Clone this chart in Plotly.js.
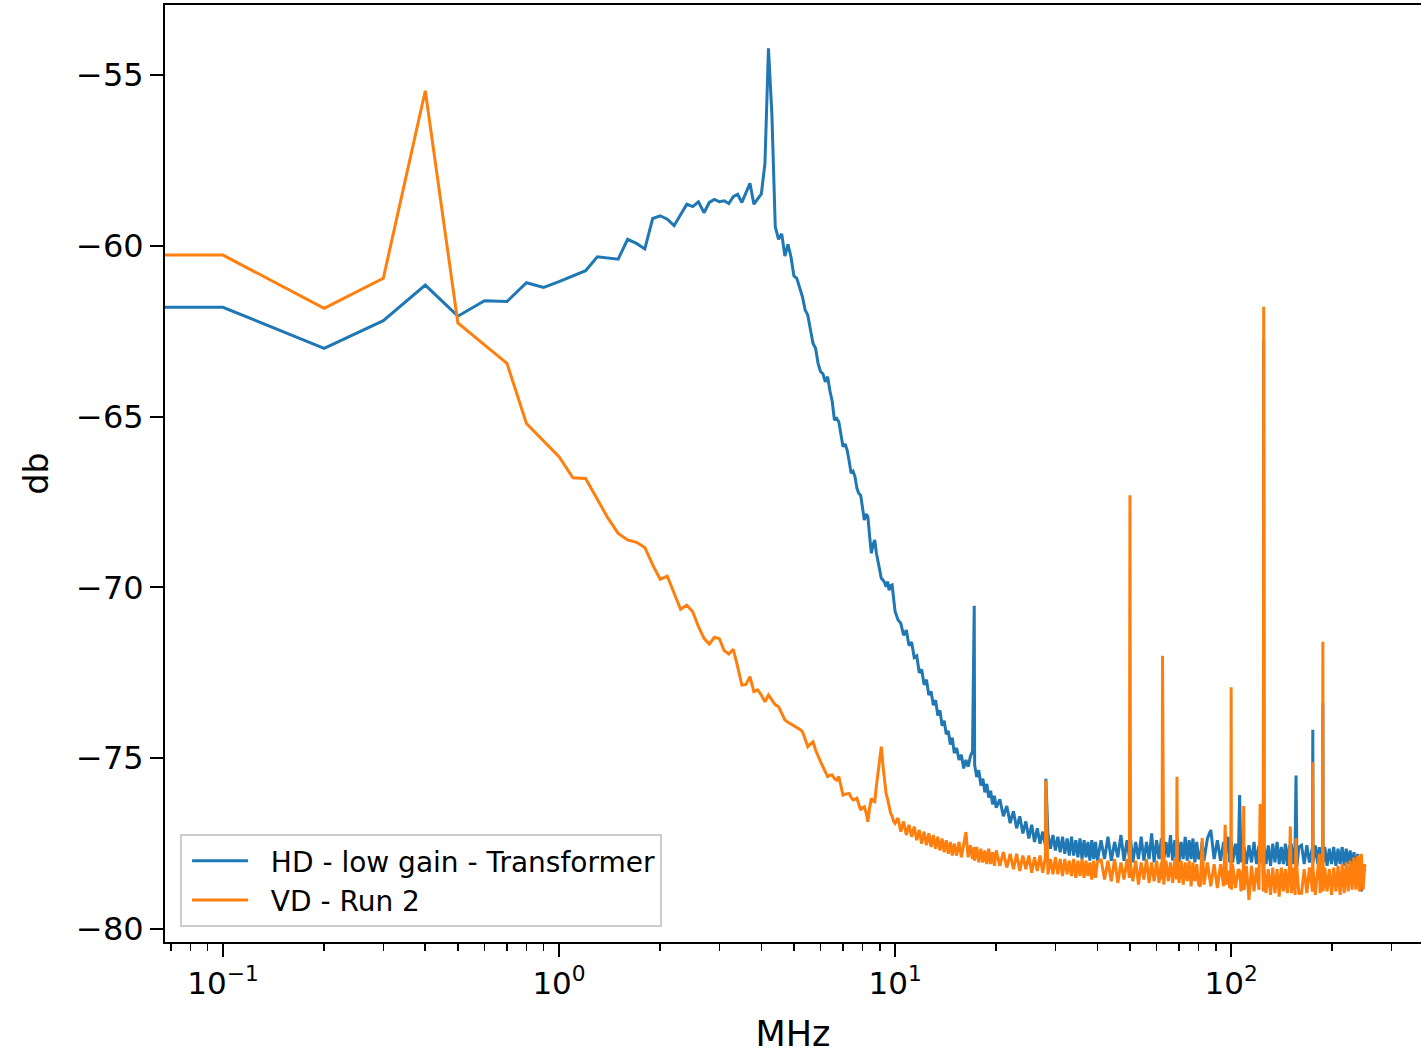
<!DOCTYPE html>
<html>
<head>
<meta charset="utf-8">
<script src="https://cdn.plot.ly/plotly-3.0.1.min.js"></script>
<style>html,body{margin:0;padding:0;background:#fff;}#chart{width:1421px;height:1054px;}</style>
</head>
<body>
<div id="chart"></div>
<script>
// ---- Data (MHz, dB), split in frequency segments ----
// 0 .. 1 MHz (first bin is DC = 0 MHz)
const freq0 = [0, 0.1, 0.2, 0.3, 0.4, 0.5, 0.6, 0.7, 0.8, 0.9, 1.0];
const hd0 = [-61.80, -61.80, -63.00, -62.19, -61.15, -62.06, -61.61, -61.63, -61.08, -61.22, -61.05];
const vd0 = [-60.27, -60.27, -61.83, -60.95, -55.46, -62.26, -62.90, -63.44, -65.20, -65.72, -66.17];

// 1.1 .. 6.0 MHz
const freq1 = [1.1,1.2,1.3,1.4,1.5,1.6,1.7,1.8,1.9,2.0,
  2.1,2.2,2.3,2.4,2.5,2.6,2.7,2.8,2.9,3.0,
  3.1,3.2,3.3,3.4,3.5,3.6,3.7,3.8,3.9,4.0,
  4.1,4.2,4.3,4.4,4.5,4.6,4.7,4.8,4.9,5.0,
  5.1,5.2,5.3,5.4,5.5,5.6,5.7,5.8,5.9,6.0];
const hd1 = [-60.88,-60.73,-60.32,-60.35,-60.39,-59.81,-59.93,-60.09,-59.20,-59.12,
  -59.22,-59.41,-59.08,-58.78,-58.85,-58.71,-59.03,-58.73,-58.64,-58.71,
  -58.68,-58.76,-58.56,-58.49,-58.73,-58.44,-58.17,-58.78,-58.64,-58.48,
  -57.59,-54.22,-56.15,-59.44,-59.81,-59.65,-60.30,-59.96,-60.32,-60.88,
  -60.95,-61.20,-61.49,-61.88,-62.03,-62.46,-62.86,-63.00,-63.44,-63.68];
const vd1 = [-66.79,-66.81,-67.42,-67.98,-68.42,-68.61,-68.68,-68.83,-69.34,-69.76,
  -69.67,-70.17,-70.64,-70.52,-70.71,-71.15,-71.49,-71.66,-71.46,-71.50,
  -71.85,-71.95,-71.81,-72.32,-72.86,-72.84,-72.61,-73.05,-73.00,-73.15,
  -73.35,-73.15,-73.30,-73.44,-73.49,-73.70,-73.88,-73.95,-74.00,-74.05,
  -74.08,-74.15,-74.22,-74.45,-74.66,-74.58,-74.52,-74.76,-74.95,-75.10];

// 6.1 .. 10.0 MHz
const freq2 = [6.1,6.2,6.3,6.4,6.5,6.6,6.7,6.8,6.9,7.0,
  7.1,7.2,7.3,7.4,7.5,7.6,7.7,7.8,7.9,8.0,
  8.1,8.2,8.3,8.4,8.5,8.6,8.7,8.8,8.9,9.0,
  9.1,9.2,9.3,9.4,9.5,9.6,9.7,9.8,9.9,10.0];
const hd2 = [-63.75,-63.98,-63.83,-64.25,-64.55,-65.10,-65.05,-65.15,-65.50,-65.88,
  -65.80,-65.98,-66.30,-66.66,-66.60,-66.76,-67.10,-67.25,-67.30,-67.70,
  -68.03,-67.85,-67.93,-68.50,-69.00,-68.75,-68.61,-69.00,-69.29,-69.50,
  -69.73,-69.78,-69.85,-69.98,-69.83,-70.08,-69.95,-69.93,-70.40,-70.70];
const vd2 = [-75.25,-75.40,-75.54,-75.50,-75.49,-75.60,-75.64,-75.54,-75.80,-76.08,
  -76.05,-76.03,-76.03,-76.15,-76.22,-76.20,-76.17,-76.35,-76.52,-76.45,
  -76.42,-76.60,-76.86,-76.45,-76.17,-76.25,-76.27,-75.80,-75.44,-75.05,
  -74.66,-75.20,-75.60,-76.03,-76.20,-76.40,-76.61,-76.70,-76.85,-76.91];

// 10.2 .. 20 MHz
const freq3 = [10.2,10.4,10.6,10.8,11,11.2,11.4,11.6,11.8,12,12.2,12.4,12.6,12.8,13,13.2,13.4,13.6,13.8,14,14.2,14.4,14.6,14.8,15,
  15.25,15.5,15.75,16,16.25,16.5,16.75,17,17.2,
  17.25,17.5,17.75,18,18.25,18.5,18.75,19,19.25,19.5,19.75,20];
const hd3 = [-70.95,-71.05,-71.40,-71.25,-71.70,-71.60,-72.05,-72.00,-72.50,-72.40,-72.85,-72.70,-73.15,-73.05,-73.45,-73.30,-73.75,-73.60,-74.05,-73.90,-74.30,-74.20,-74.60,-74.40,-74.85,
  -74.70,-75.05,-74.90,-75.30,-75.05,-75.25,-74.95,-74.80,-70.54,
  -75.20,-75.55,-75.35,-75.80,-75.60,-76.00,-75.75,-76.15,-75.95,-76.35,-76.10,-76.45];
const vd3 = [-76.75,-77.15,-76.85,-77.25,-76.95,-77.30,-77.00,-77.40,-77.10,-77.50,-77.15,-77.55,-77.20,-77.60,-77.25,-77.65,-77.30,-77.70,-77.35,-77.75,-77.40,-77.80,-77.45,-77.85,-77.50,
  -77.85,-77.45,-77.90,-77.50,-77.16,-77.90,-77.55,-77.95,-77.60,
  -78.00,-77.60,-78.05,-77.65,-78.05,-77.70,-78.10,-77.65,-78.10,-77.75,-78.15,-77.70];

// 20.5 .. 40 MHz
const freq4 = [20.5,21,21.5,22,22.5,23,23.5,24,24.5,25,25.5,26,26.5,27,27.5,28,28.1,
  28.5,29,29.5,30,30.5,31,31.5,32,32.5,33,33.5,34,34.5,35,35.5,36,36.5,37,37.5,38,38.5,39,39.5,40];
const hd4 = [-76.20,-76.70,-76.40,-76.90,-76.55,-77.05,-76.70,-77.20,-76.85,-77.35,-76.95,-77.45,-77.05,-77.50,-77.15,-77.55,-75.60,
  -77.20,-77.65,-77.25,-77.70,-77.30,-77.75,-77.30,-77.80,-77.35,-77.85,-77.30,-77.85,-77.40,-77.90,-77.35,-77.95,-77.40,-77.90,-77.45,-78.00,-77.40,-77.95,-77.45,-78.00];
const vd4 = [-78.15,-77.75,-78.20,-77.80,-78.25,-77.80,-78.30,-77.85,-78.25,-77.85,-78.35,-77.90,-78.30,-77.85,-78.35,-77.90,-75.65,
  -78.40,-77.95,-78.40,-77.90,-78.40,-77.95,-78.45,-77.95,-78.40,-78.00,-78.45,-77.95,-78.50,-78.00,-78.45,-77.95,-78.50,-78.00,-78.45,-78.05,-78.55,-78.00,-78.50,-78.05];

// 41 .. 80 MHz
const freq5 = [41,42,43,44,45,46,47,48,49, 49.8,50,50.2,
  51,52,53,54,55,56,57,58,59,60,61,62, 62.3,62.5,62.7,
  63,64,65,66,67,68, 68.8,69,69.2,
  70,71,72,73,74,75,76,77,78,79,80];
const hd5 = [-77.40,-77.95,-77.30,-78.00,-77.45,-77.90,-77.25,-78.00,-77.40, -77.90,-77.70,-77.35,
  -78.05,-77.45,-77.95,-77.30,-78.00,-77.45,-77.95,-77.20,-78.05,-77.40,-77.95,-77.35, -77.95,-77.60,-77.30,
  -78.00,-77.45,-77.90,-77.25,-78.00,-77.40, -77.95,-77.70,-77.35,
  -78.05,-77.45,-77.95,-77.30,-78.00,-77.40,-77.95,-77.35,-78.05,-77.45,-77.95];
const vd5 = [-77.95,-78.55,-78.00,-78.60,-77.95,-78.65,-78.05,-78.55,-77.95, -78.50,-67.30,-78.10,
  -78.60,-78.00,-78.70,-78.05,-78.55,-77.95,-78.65,-78.05,-78.60,-78.00,-78.65,-78.05, -78.55,-72.00,-78.10,
  -78.70,-78.00,-78.60,-78.05,-78.65,-77.95, -78.55,-75.54,-78.05,
  -78.65,-78.00,-78.70,-78.05,-78.60,-78.00,-78.75,-78.05,-78.60,-78.10,-78.70];

// 81 .. 159 MHz
const freq6 = [81,82,83,85,87,89,91,93,95,96,97,98,99,99.8,100,100.2,101,103,105,106,107,108.7,109,109.3,
  111,113,115,117,119,121,122,123,124.7,125,125.3,127,129,131,133,135,137,139,141,143,145,147,149,150,151,153,155,156,157,159];
const hd6 = [-77.85,-77.45,-78.00,-77.35,-77.10,-77.95,-77.40,-78.00,-77.45,-77.95,-77.50,-77.30,-78.05,-77.60,-77.85,-77.45,-78.05,-77.50,-78.10,-76.08,-78.05,-77.50,-77.85,-77.60,
  -78.10,-77.55,-78.05,-77.45,-78.10,-77.55,-78.05,-77.60,-78.10,-62.76,-77.60,-78.10,-77.55,-78.15,-77.50,-78.05,-77.45,-78.10,-77.60,-78.10,-77.50,-78.15,-77.55,-77.90,-77.50,-78.10,-77.55,-75.51,-78.15,-77.60];
const vd6 = [-78.75,-77.34,-78.70,-78.05,-78.75,-78.10,-78.80,-78.10,-78.75,-76.95,-78.70,-78.30,-78.80,-78.20,-72.92,-78.85,-78.10,-78.80,-78.25,-78.30,-78.90,-78.20,-76.40,-78.85,
  -78.15,-79.15,-78.15,-78.90,-78.20,-78.85,-76.34,-76.60,-78.90,-61.78,-78.20,-78.95,-78.25,-79.00,-78.20,-78.95,-78.25,-79.05,-78.20,-78.90,-78.25,-78.95,-78.20,-77.00,-78.95,-78.20,-79.00,-77.34,-78.25,-78.95];

// 162 .. 250 MHz
const freq7 = [162,165,168,171,174.7,175,175.3,178,181,183,184,187.2,187.5,187.8,
  190,193,196,199,202,205,208,211,214,217,220,223,226,229,232,235,238,241,244,247,250];
const hd7 = [-77.55,-78.10,-77.55,-78.05,-77.60,-74.17,-78.05,-77.55,-78.10,-77.60,-78.05,-77.60,-73.39,-78.05,
  -77.60,-78.15,-77.65,-78.10,-77.60,-78.15,-77.65,-78.10,-77.60,-78.15,-77.65,-78.10,-77.70,-78.20,-77.75,-78.25,-77.80,-78.30,-78.90,-78.10,-78.30];
const vd7 = [-78.95,-78.25,-78.95,-78.20,-78.90,-75.12,-78.25,-79.00,-78.20,-77.80,-78.95,-78.25,-71.59,-78.90,
  -78.20,-78.90,-78.25,-79.00,-78.20,-78.90,-78.15,-79.00,-78.10,-78.95,-78.05,-78.90,-78.00,-78.85,-77.90,-78.85,-77.85,-78.90,-77.80,-78.85,-78.10];

// Axis ticks
const yTickVals = [-80, -75, -70, -65, -60, -55];
const yTickText = ['\u221280', '\u221275', '\u221270', '\u221265', '\u221260', '\u221255'];
const xTickVals = [0.1, 1, 10, 100];
const xTickText = ['10<sup>\u22121</sup>', '10<sup>0</sup>', '10<sup>1</sup>', '10<sup>2</sup>'];
const xMinorTicks = [0.07,0.08,0.09,0.2,0.3,0.4,0.5,0.6,0.7,0.8,0.9,2,3,4,5,6,7,8,9,20,30,40,50,60,70,80,90,200,300];

const seriesNames = ['HD - low gain - Transformer', 'VD - Run 2'];
const seriesColors = ['#1f77b4', '#ff7f0e'];

// ---- assemble ----
const freq = [].concat(freq0, freq1, freq2, freq3, freq4, freq5, freq6, freq7);
const hd = [].concat(hd0, hd1, hd2, hd3, hd4, hd5, hd6, hd7);
const vd = [].concat(vd0, vd1, vd2, vd3, vd4, vd5, vd6, vd7);
if (freq.length !== hd.length || freq.length !== vd.length) {
  console.error('length mismatch', freq.length, hd.length, vd.length);
}
// like matplotlib, a non-positive x on a log axis is clipped to a tiny positive value
const xPlot = freq.map(f => (f > 0 ? f : 1e-300));

const NB = '\u00a0\u00a0';
const traces = [
  {x: xPlot, y: hd, name: NB + seriesNames[0], type: 'scatter', mode: 'lines',
   line: {color: seriesColors[0], width: 3}},
  {x: xPlot, y: vd, name: NB + seriesNames[1], type: 'scatter', mode: 'lines',
   line: {color: seriesColors[1], width: 3}}
];

const font = 'DejaVu Sans, Liberation Sans, sans-serif';
const layout = {
  width: 1421, height: 1054,
  margin: {l: 165, r: 0, t: 5, b: 112},
  paper_bgcolor: '#ffffff', plot_bgcolor: '#ffffff',
  font: {family: font, color: '#000000', size: 30},
  showlegend: true,
  legend: {
    x: 0.012, y: 0.016, xanchor: 'left', yanchor: 'bottom',
    bgcolor: 'rgba(255,255,255,0.85)', bordercolor: '#cccccc', borderwidth: 2,
    font: {family: font, size: 28, color: '#000000'},
    itemwidth: 56, indentation: 5, tracegroupgap: 0
  },
  xaxis: {
    type: 'log', range: [-1.1725, 2.565],
    showline: true, linecolor: '#000000', linewidth: 2, mirror: true,
    showgrid: false, zeroline: false,
    ticks: 'outside', ticklen: 13, tickwidth: 2, tickcolor: '#000000',
    tickmode: 'array', tickvals: xTickVals, ticktext: xTickText,
    tickfont: {family: font, size: 31, color: '#000000'},
    minor: {tickmode: 'array', tickvals: xMinorTicks, ticks: 'outside', ticklen: 7, tickwidth: 1.6, tickcolor: '#000000', showgrid: false},
    title: {text: 'MHz', font: {family: font, size: 35, color: '#000000'}, standoff: 22}
  },
  yaxis: {
    range: [-80.38, -52.95],
    showline: true, linecolor: '#000000', linewidth: 2, mirror: true,
    showgrid: false, zeroline: false,
    ticks: 'outside', ticklen: 13, tickwidth: 2, tickcolor: '#000000',
    tickmode: 'array', tickvals: yTickVals, ticktext: yTickText,
    tickfont: {family: font, size: 32, color: '#000000'},
    title: {text: 'db', font: {family: font, size: 33, color: '#000000'}, standoff: 18}
  }
};

Plotly.newPlot('chart', traces, layout, {displayModeBar: false, staticPlot: true});
</script>
</body>
</html>
